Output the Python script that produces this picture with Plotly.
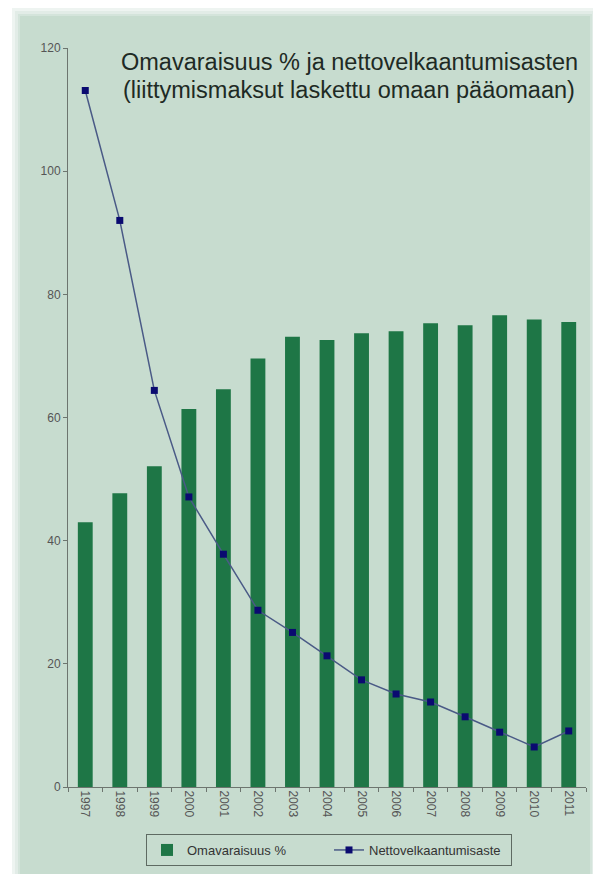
import plotly.graph_objects as go

years = ["1997", "1998", "1999", "2000", "2001", "2002", "2003", "2004",
         "2005", "2006", "2007", "2008", "2009", "2010", "2011"]
omavaraisuus = [43.0, 47.7, 52.1, 61.4, 64.6, 69.6, 73.1, 72.6,
                73.7, 74.0, 75.3, 75.0, 76.6, 75.9, 75.5]
nettovelka = [113.1, 92.0, 64.4, 47.1, 37.8, 28.7, 25.1, 21.3,
              17.4, 15.1, 13.8, 11.4, 8.9, 6.5, 9.1]
yticks = [0, 20, 40, 60, 80, 100, 120]
title_lines = ["Omavaraisuus % ja nettovelkaantumisasten",
               "(liittymismaksut laskettu omaan pääomaan)"]

OFF = 8  # default page body margin
W, H = 601 - OFF, 874 - OFF
L, R, T, B = 68 - OFF, 15, 48 - OFF, 87
pw, ph = W - L - R, H - T - B


def px(x):  # page pixel -> paper coordinate
    return (x - OFF - L) / pw


def py(y):
    return (H - B - (y - OFF)) / ph


fig = go.Figure()
fig.add_trace(go.Bar(
    x=years, y=omavaraisuus, name="Omavaraisuus %",
    marker=dict(color="#1e7646", line=dict(width=0)), width=0.43,
))
fig.add_trace(go.Scatter(
    x=years, y=nettovelka, name="Nettovelkaantumisaste",
    mode="lines+markers",
    line=dict(color="#4a5a86", width=1.5),
    marker=dict(symbol="square", size=7, color="#0a0a70"),
))

shapes = []
for c, d in [("#eef4f1", 8), ("#e2ece7", 5), ("#d4e4db", 2)]:
    shapes.append(dict(type="rect", xref="paper", yref="paper",
                       x0=px(20 - d), x1=px(590 + d), y0=py(880), y1=py(16 - d),
                       fillcolor=c, line=dict(width=0), layer="below"))
shapes.append(dict(type="rect", xref="paper", yref="paper",
                   x0=px(20), x1=px(590), y0=py(880), y1=py(16),
                   fillcolor="#c7dccf", line=dict(width=0), layer="below"))

annotations = []
for txt, yc in zip(title_lines, [62, 90]):
    annotations.append(dict(
        text=txt, xref="paper", yref="paper", x=px(349), y=py(yc),
        xanchor="center", yanchor="middle", showarrow=False,
        font=dict(family="Liberation Sans, Arial", size=23.5, color="#1e2a24"),
    ))

fig.update_layout(
    width=W, height=H,
    margin=dict(l=L, r=R, t=T, b=B, autoexpand=False),
    paper_bgcolor="#ffffff",
    plot_bgcolor="rgba(0,0,0,0)",
    shapes=shapes,
    annotations=annotations,
    showlegend=True,
    legend=dict(
        orientation="h", x=px(329), y=py(850), xanchor="center", yanchor="middle",
        bordercolor="#5e6a62", borderwidth=1, bgcolor="rgba(0,0,0,0)",
        font=dict(family="Liberation Sans, Arial", size=13, color="#333"),
        entrywidth=137, itemwidth=30,
    ),
    xaxis=dict(
        type="category", tickangle=90, showgrid=False,
        showline=True, linecolor="#6d756f", linewidth=1,
        ticks="outside", ticklen=4, tickcolor="#6d756f", tickson="boundaries",
        tickfont=dict(family="Liberation Sans, Arial", size=12, color="#555"),
        range=[-0.5, 14.5],
    ),
    yaxis=dict(
        range=[0, 120], tickvals=yticks, showgrid=False, zeroline=False,
        showline=True, linecolor="#6d756f", linewidth=1,
        ticks="outside", ticklen=4, tickcolor="#6d756f",
        tickfont=dict(family="Liberation Sans, Arial", size=12, color="#555"),
    ),
)

fig.write_html("out.html")
